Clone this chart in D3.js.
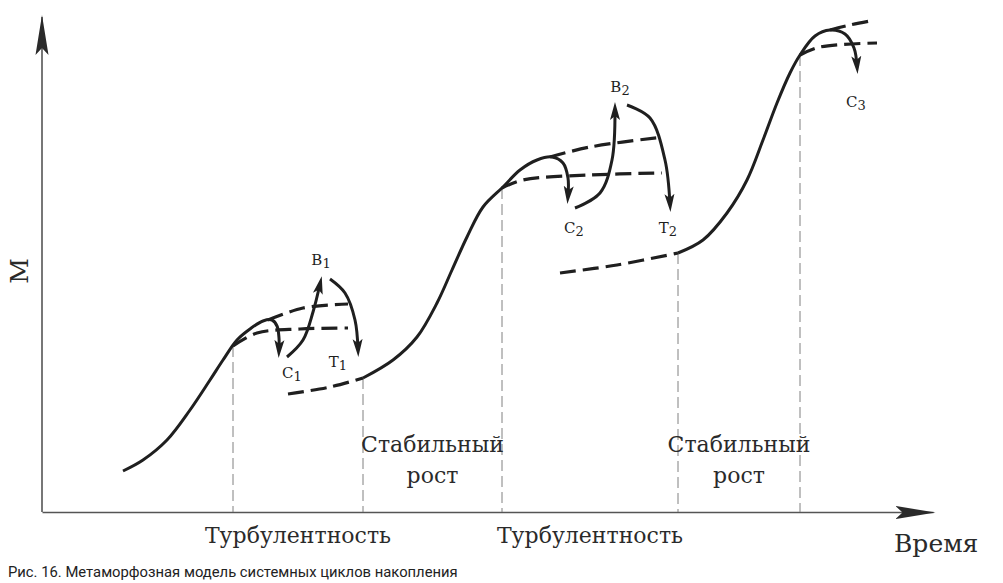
<!DOCTYPE html>
<html>
<head>
<meta charset="utf-8">
<script src="https://cdn.jsdelivr.net/npm/d3@7"></script>
<style>
body { margin: 0; background: #fff; }
</style>
</head>
<body>
<svg id="plot" width="1003" height="583"></svg>
<script>
// values: [time, M]
let rise1 = [[8.1,4.1],[10.1,5.2],[12.5,7.2],[14.8,10.2],[16.8,13.2],[18.1,15.2],[19.5,17.2],[20.8,18.3],[22.1,19.1],[23.0,19.2],[23.5,18.6],[23.7,17.4],[23.7,16.2]]
let rise2 = [[32.1,13.4],[35.1,15.2],[37.5,17.5],[39.5,20.9],[41.0,24.2],[42.5,27.5],[44.1,30.5],[46.1,32.5],[47.8,34.2],[49.5,35.2],[51.0,35.5],[52.1,34.9],[52.6,33.4],[52.6,31.6]]
let rise3 = [[63.6,25.9],[66.1,27.2],[68.5,29.9],[70.5,33.2],[72.1,37.2],[73.5,40.9],[74.8,43.9],[75.8,45.7],[77.3,47.6],[78.8,48.2],[80.3,47.8],[81.2,46.4],[81.5,44.6]]

let lead2 = [[24.6,11.8],[28.8,12.5],[32.1,13.4]]
let lead3 = [[51.8,23.9],[57.5,24.7],[63.6,25.9]]

let upper1 = [[22.6,19.2],[26.1,20.4],[30.6,20.8]]
let lower1 = [[19.1,16.6],[21.5,17.9],[25.8,18.3],[30.6,18.4]]
let upper2 = [[50.8,35.5],[54.8,36.5],[62.1,37.5]]
let lower2 = [[46.0,32.4],[48.1,33.2],[54.8,33.7],[62.0,33.9]]
let upper3 = [[78.8,48.2],[80.8,48.7],[83.3,49.2]]
let lower3 = [[75.8,45.7],[77.8,46.5],[83.5,46.9]]

let cToB1 = [[24.5,15.5],[26.1,17.2],[27.1,20.0],[27.8,22.8]]
let bToT1 = [[28.8,23.3],[30.3,21.9],[31.3,19.2],[31.6,16.3]]
let cToB2 = [[53.3,30.4],[55.8,31.9],[57.0,35.2],[57.3,40.2]]
let bToT2 = [[58.5,40.7],[60.8,39.4],[62.3,35.2],[62.8,30.8]]

let guideTimes = [19.1, 32.1, 46.0, 63.6, 75.8]
let guideTops = [16.6, 13.4, 32.4, 25.9, 45.7]

let pointNames = ["В", "С", "Т", "В", "С", "Т", "С"]
let pointSubs = ["1", "1", "1", "2", "2", "2", "3"]
let pointTimes = [27.9, 25.0, 29.6, 57.8, 53.2, 62.6, 81.4]
let pointLevels = [24.7, 13.4, 14.5, 42.0, 27.9, 27.9, 40.5]

let turbulenceName = "Турбулентность"
let stableName = ["Стабильный", "рост"]
let xName = "Время", yName = "М"
let caption = "Рис. 16. Метаморфозная модель системных циклов накопления"

let svg = d3.select("#plot")

let x_scale = d3.scaleLinear([0, 89.1], [42, 933])
let y_scale = d3.scaleLinear([0, 49.5], [512, 17])

let ink = "#1f1f1f"
let serif = "DejaVu Serif, Liberation Serif, serif"

let defs = svg.append("defs")
defs.append("marker")
  .attr("id", "head")
  .attr("markerUnits", "userSpaceOnUse")
  .attr("viewBox", "0 -6 18 12")
  .attr("markerWidth", 18).attr("markerHeight", 12)
  .attr("refX", 10).attr("refY", 0)
  .attr("orient", "auto")
  .append("path")
  .attr("d", "M0,-5L18,0L0,5L4,0Z")
  .attr("fill", ink)

defs.append("marker")
  .attr("id", "axhead")
  .attr("markerUnits", "userSpaceOnUse")
  .attr("viewBox", "0 -7 40 14")
  .attr("markerWidth", 40).attr("markerHeight", 14)
  .attr("refX", 38).attr("refY", 0)
  .attr("orient", "auto")
  .append("path")
  .attr("d", "M0,-6.5L40,0L0,6.5L7,0Z")
  .attr("fill", "#2a2a2a")

// axes (no ticks, just the arrows)
let gx = svg.append("g")
  .attr("transform", `translate(0,${y_scale(0)})`)
  .call(d3.axisBottom(x_scale).tickValues([]).tickSizeOuter(0))
gx.select(".domain").attr("stroke", "#555").attr("stroke-width", 1.6).attr("marker-end", "url(#axhead)")

let gy = svg.append("g")
  .attr("transform", `translate(${x_scale(0)},0)`)
  .call(d3.axisLeft(y_scale).tickValues([]).tickSizeOuter(0))
gy.select(".domain").attr("stroke", "#555").attr("stroke-width", 1.6)
  .attr("d", `M0,${y_scale(0)}V${y_scale(49.5)}`)
  .attr("marker-end", "url(#axhead)")

// vertical guides
svg.append("g").selectAll("line")
  .data(guideTimes)
  .join("line")
  .attr("x1", d => x_scale(d)).attr("x2", d => x_scale(d))
  .attr("y1", (d, i) => y_scale(guideTops[i])).attr("y2", y_scale(0))
  .attr("stroke", "#808080").attr("stroke-width", 1)
  .attr("stroke-dasharray", "11,5")

let line = d3.line()
  .x(d => x_scale(d[0]))
  .y(d => y_scale(d[1]))
  .curve(d3.curveCatmullRom.alpha(0.5))

// dashed levels
svg.append("g").selectAll("path")
  .data([lead2, lead3, upper1, lower1, upper2, lower2, upper3, lower3])
  .join("path")
  .attr("d", line)
  .attr("fill", "none").attr("stroke", ink).attr("stroke-width", 3.2)
  .attr("stroke-dasharray", "16,7")

// solid curves, each ending in an arrow
svg.append("g").selectAll("path")
  .data([rise1, rise2, rise3, cToB1, bToT1, cToB2, bToT2])
  .join("path")
  .attr("d", line)
  .attr("fill", "none").attr("stroke", ink).attr("stroke-width", 3)
  .attr("marker-end", "url(#head)")

// point labels
let pl = svg.append("g").selectAll("text")
  .data(pointNames)
  .join("text")
  .attr("x", (d, i) => x_scale(pointTimes[i]))
  .attr("y", (d, i) => y_scale(pointLevels[i]))
  .attr("text-anchor", "middle")
  .attr("font-family", serif).attr("font-size", 15).attr("fill", ink)
pl.append("tspan").text(d => d)
pl.append("tspan").attr("font-size", 13).attr("dy", 3).text((d, i) => pointSubs[i])

// phase labels
let turbX = [0, 2].map(i => (guideTimes[i] + guideTimes[i + 1]) / 2)
svg.append("g").selectAll("text")
  .data(turbX)
  .join("text")
  .attr("x", d => x_scale(d)).attr("y", y_scale(-3.1))
  .attr("text-anchor", "middle")
  .attr("font-family", serif).attr("font-size", 22).attr("fill", "#2a2a2a")
  .text(turbulenceName)

let stableX = [1, 3].map(i => (guideTimes[i] + guideTimes[i + 1]) / 2)
let st = svg.append("g").selectAll("text")
  .data(stableX)
  .join("text")
  .attr("text-anchor", "middle")
  .attr("font-family", serif).attr("font-size", 22).attr("fill", "#2a2a2a")
st.append("tspan").attr("x", d => x_scale(d)).attr("y", y_scale(6.0)).text(stableName[0])
st.append("tspan").attr("x", d => x_scale(d)).attr("y", y_scale(2.9)).text(stableName[1])

// axis titles
svg.append("text")
  .attr("x", 894).attr("y", 552)
  .attr("font-family", serif).attr("font-size", 25).attr("fill", "#2a2a2a")
  .text(xName)

svg.append("text")
  .attr("text-anchor", "middle")
  .attr("transform", "translate(28,271) rotate(-90)")
  .attr("font-family", serif).attr("font-size", 25).attr("fill", "#2a2a2a")
  .text(yName)

svg.append("text")
  .attr("x", 8).attr("y", 577)
  .attr("font-family", "Roboto, sans-serif").attr("font-size", 14.8).attr("fill", "#222")
  .text(caption)
</script>
</body>
</html>
